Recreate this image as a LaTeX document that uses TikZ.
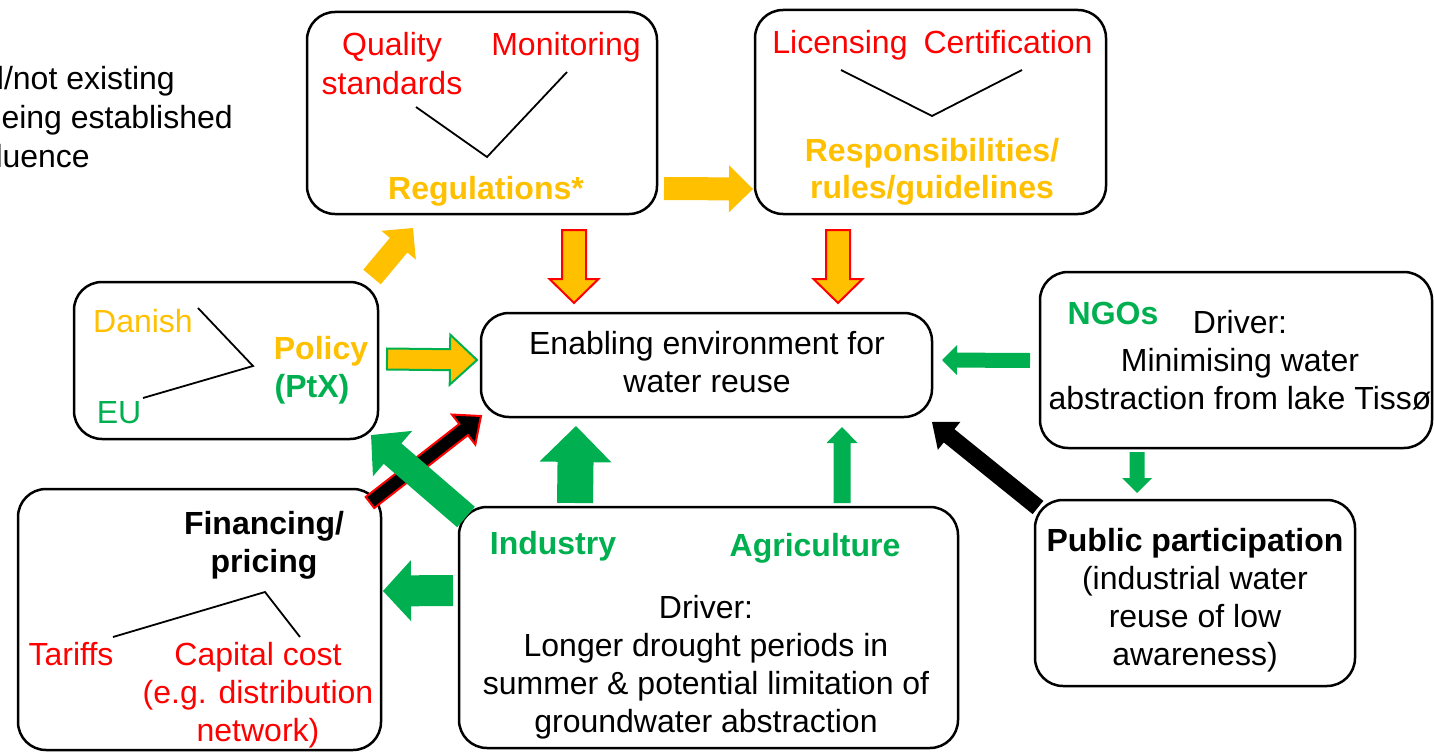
\documentclass[tikz,border=0pt]{standalone}
\usepackage{fontspec}
\setmainfont{Liberation Sans}
\usetikzlibrary{calc}
\definecolor{cy}{HTML}{FFC000}
\definecolor{cg}{HTML}{00B050}
\definecolor{cr}{HTML}{FF0000}
\newcommand\blockarrow[6][]{%
  \path (#2); \pgfgetlastxy{\baX}{\baY}%
  \path (#3); \pgfgetlastxy{\bbX}{\bbY}%
  \pgfmathsetmacro\bAng{atan2(\bbY-\baY,\bbX-\baX)}%
  \pgfmathsetmacro\bLen{veclen(\bbX-\baX,\bbY-\baY)}%
  \pgfmathsetmacro\bNeck{\bLen-#6}%
  \begin{scope}[shift={(#2)},rotate=\bAng]
    \path[#1] (0pt,-#4pt) -- (\bNeck pt,-#4pt) -- (\bNeck pt,-#5pt) -- (\bLen pt,0pt) -- (\bNeck pt,#5pt) -- (\bNeck pt,#4pt) -- (0pt,#4pt) -- cycle;
  \end{scope}}
\tikzset{
  box/.style={draw=black, line width=2.5pt, rounded corners=28pt, inner sep=0pt},
  txt/.style={inner sep=0pt, anchor=base, font=\fontsize{32}{38}\selectfont},
  btxt/.style={inner sep=0pt, anchor=base, font=\fontsize{32}{38}\selectfont\bfseries},
  thin/.style={draw=black, line width=1.8pt},
  yarr/.style={fill=cy},
  garr/.style={fill=cg},
  karr/.style={fill=black},
  yrarr/.style={fill=cy, draw=cr, line width=2pt, line join=miter},
  ygarr/.style={fill=cy, draw=cg, line width=2pt, line join=miter},
  krarr/.style={fill=black, draw=cr, line width=2pt, line join=miter}
}
\begin{document}
\begin{tikzpicture}[x=1pt,y=-1pt]
\useasboundingbox (0,0) rectangle (1434,752);
\clip (0,0) rectangle (1434,752);
\fill[white] (0,0) rectangle (1434,752);

% legend (partly cut off)
\node[txt, anchor=base east] (lg1) at (175,89) {l/not existing};
\node[txt, anchor=base east] (lg2) at (233,128) {being established};
\node[txt, anchor=base east] (lg3) at (90,167) {luence};

% boxes
\node[box, minimum width=350pt, minimum height=202pt] (reg) at (482,113) {};
\node[box, minimum width=351pt, minimum height=204pt] (resp) at (930.5,112) {};
\node[box, minimum width=304pt, minimum height=157pt] (pol) at (226,360.5) {};
\node[box, minimum width=451pt, minimum height=104pt] (enab) at (706.5,365) {};
\node[box, minimum width=392pt, minimum height=176pt] (ngo) at (1236,360) {};
\node[box, minimum width=363pt, minimum height=261pt] (fin) at (199.5,619.5) {};
\node[box, minimum width=499pt, minimum height=241pt] (ind) at (708.5,627.5) {};
\node[box, minimum width=320pt, minimum height=186pt] (pub) at (1195,593) {};

% regulations box
\node[txt, text=cr] (q1) at (392,56) {Quality};
\node[txt, text=cr] (q2) at (392,94) {standards};
\node[txt, text=cr] (mon) at (566,56) {Monitoring};
\coordinate (r1) at (416,107); \coordinate (r2) at (487,157); \coordinate (r3) at (567,72);
\draw[thin] (r1) -- (r2) -- (r3);
\node[btxt, text=cy] (regt) at (486,199) {Regulations*};

% responsibilities box
\node[txt, text=cr] (lic) at (840,53) {Licensing};
\node[txt, text=cr] (cert) at (1008,53) {Certification};
\coordinate (s1) at (841,70); \coordinate (s2) at (932,116); \coordinate (s3) at (1022,70);
\draw[thin] (s1) -- (s2) -- (s3);
\node[btxt, text=cy] (rsp1) at (932,161) {Responsibilities/};
\node[btxt, text=cy] (rsp2) at (932,198) {rules/guidelines};

% policy box
\node[txt, text=cy] (dan) at (143,332) {Danish};
\node[txt, text=cg] (eu) at (119,423) {EU};
\coordinate (p1) at (198,308); \coordinate (p2) at (253,366); \coordinate (p3) at (143,398);
\draw[thin] (p1) -- (p2) -- (p3);
\node[btxt, text=cy] (polt) at (321,359) {Policy};
\node[btxt, text=cg] (ptx) at (312,397) {(PtX)};

% enabling
\node[txt] (en1) at (707,354) {Enabling environment for};
\node[txt] (en2) at (707,392) {water reuse};

% NGOs
\node[btxt, text=cg] (ngot) at (1113,324) {NGOs};
\node[txt] (ng1) at (1240,333) {Driver:};
\node[txt] (ng2) at (1240,371) {Minimising water};
\node[txt] (ng3) at (1240,409) {abstraction from lake Tissø};

% financing
\node[btxt] (fi1) at (264,534) {Financing/};
\node[btxt] (fi2) at (264,572) {pricing};
\coordinate (f1) at (113,637); \coordinate (f2) at (265,592); \coordinate (f3) at (300,637);
\draw[thin] (f1) -- (f2) -- (f3);
\node[txt, text=cr] (tar) at (71,665) {Tariffs};
\node[txt, text=cr] (cap1) at (258,665) {Capital cost};
\node[txt, text=cr] (cap2) at (258,703) {(e.g. distribution};
\node[txt, text=cr] (cap3) at (258,741) {network)};

% industry / agriculture
\node[btxt, text=cg] (indt) at (553,554) {Industry};
\node[btxt, text=cg] (agr) at (815,556) {Agriculture};
\node[txt] (d1) at (706,618) {Driver:};
\node[txt] (d2) at (706,656) {Longer drought periods in};
\node[txt] (d3) at (706,694) {summer \& potential limitation of};
\node[txt] (d4) at (706,732) {groundwater abstraction};

% public participation
\node[btxt] (pu1) at (1195,551) {Public participation};
\node[txt] (pu2) at (1195,589) {(industrial water};
\node[txt] (pu3) at (1195,627) {reuse of low};
\node[txt] (pu4) at (1195,665) {awareness)};

% arrow end points
\coordinate (aA) at (664,188.5);  \coordinate (bA) at (753,189);
\coordinate (aB) at (372,277);    \coordinate (bB) at (413,228);
\coordinate (aC) at (574,230);    \coordinate (bC) at (574,303);
\coordinate (aD) at (838,230);    \coordinate (bD) at (838,303);
\coordinate (aE) at (387,359);    \coordinate (bE) at (477,360);
\coordinate (aF) at (1030,360.5); \coordinate (bF) at (942,360);
\coordinate (aG) at (1038,507.5); \coordinate (bG) at (932,422);
\coordinate (aH) at (1137,452);   \coordinate (bH) at (1137,493);
\coordinate (aI) at (575,503);    \coordinate (bI) at (576,426);
\coordinate (aJ) at (842,503);    \coordinate (bJ) at (842,427);
\coordinate (aK) at (370,502.5);  \coordinate (bK) at (481,416);
\coordinate (aL) at (466,517);    \coordinate (bL) at (371,435);
\coordinate (aM) at (453,590.5);  \coordinate (bM) at (383,591);

% arrows
\blockarrow[yarr]{aA}{bA}{11.5}{23.5}{24}
\blockarrow[yarr]{aB}{bB}{11.4}{22.4}{22.4}
\blockarrow[yrarr]{aC}{bC}{12}{24.5}{24}
\blockarrow[yrarr]{aD}{bD}{12}{24.5}{24}
\blockarrow[ygarr]{aE}{bE}{10.5}{25}{27}
\blockarrow[garr]{aF}{bF}{7.5}{15}{15}
\blockarrow[karr]{aG}{bG}{8.5}{18}{22}
\blockarrow[garr]{aH}{bH}{7.5}{15}{15}
\blockarrow[garr]{aI}{bI}{18}{36}{36}
\blockarrow[garr]{aJ}{bJ}{8.5}{15.5}{16}
\blockarrow[krarr]{aK}{bK}{7}{19}{22}
\blockarrow[garr]{aL}{bL}{13.5}{30}{28.4}
\blockarrow[garr]{aM}{bM}{15.5}{30.5}{28}
\end{tikzpicture}
\end{document}
